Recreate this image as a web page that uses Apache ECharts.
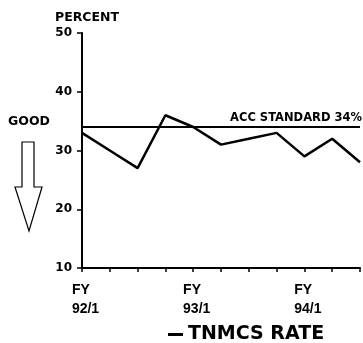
<!DOCTYPE html>
<html><head><meta charset="utf-8">
<script src="https://cdn.jsdelivr.net/npm/echarts@6/dist/echarts.min.js"></script>
<style>html,body{margin:0;padding:0;background:#fff}#c{width:363px;height:343px}</style>
</head><body><div id="c"></div>
<script>
const categories = ['92/1','92/2','92/3','92/4','93/1','93/2','93/3','93/4','94/1','94/2','94/3'];
const tnmcsRate = [33, 30, 27, 36, 34, 31, 32, 33, 29, 32, 28];
const standardValue = 34;
const yTicks = [10, 20, 30, 40, 50];
const labeledCats = ['92/1','93/1','94/1'];

const FONT = 'DejaVu Sans';
const LFONT = 'Liberation Sans';
const chart = echarts.init(document.getElementById('c'), null, {renderer:'canvas'});
chart.setOption({
  animation: false,
  backgroundColor: '#fff',
  grid: {left: 82, right: 1, top: 33, bottom: 75},
  legend: {
    data: ['TNMCS RATE'], left: 163, top: 320, icon: 'rect', itemWidth: 15, itemHeight: 3, itemGap: 10,
    textStyle: {fontFamily: FONT, fontWeight: 'bold', fontSize: 19, color: '#000'}
  },
  xAxis: {
    type: 'category', data: categories, boundaryGap: false,
    axisLine: {lineStyle: {color: '#000', width: 2}},
    axisTick: {show: true, length: 4, lineStyle: {color: '#000', width: 1.5}, interval: 0},
    axisLabel: {
      interval: 0, margin: 13, color: '#000',
      fontFamily: LFONT, fontWeight: 'bold', fontSize: 14,
      formatter: v => labeledCats.includes(v) ? '{a|FY}\n{a|' + v + '}' : '',
      rich: {a: {align: 'left', padding: [0, 0, 0, 7], lineHeight: 19, fontFamily: LFONT, fontWeight: 'bold', fontSize: 14, color: '#000'}}
    }
  },
  yAxis: {
    type: 'value', min: yTicks[0], max: yTicks[yTicks.length-1], interval: 10,
    name: 'PERCENT', nameLocation: 'end', nameGap: 9,
    nameTextStyle: {fontFamily: FONT, fontWeight: 'bold', fontSize: 12.5, color: '#000', align: 'center', padding: [0, 0, 0, 10]},
    axisLine: {show: true, lineStyle: {color: '#000', width: 2}},
    axisTick: {show: true, length: 5, lineStyle: {color: '#000', width: 1.5}},
    axisLabel: {margin: 10, color: '#000', fontFamily: FONT, fontWeight: 'bold', fontSize: 12},
    splitLine: {show: false}
  },
  series: [{
    name: 'TNMCS RATE', type: 'line', data: tnmcsRate, symbol: 'none',
    lineStyle: {color: '#000', width: 2.5}, itemStyle: {color: '#000'},
    markLine: {
      silent: true, symbol: 'none',
      lineStyle: {color: '#000', width: 2, type: 'solid'},
      label: {position: 'insideEndTop', formatter: 'ACC STANDARD ' + standardValue + '%', color: '#000',
        fontFamily: FONT, fontWeight: 'bold', fontSize: 11.5, distance: [-2, 3]},
      data: [{yAxis: standardValue}]
    }
  }],
  graphic: [
    {type: 'text', left: 8, top: 115, style: {text: 'GOOD', fill: '#000', font: 'bold 12.5px "DejaVu Sans"'}},
    {type: 'polygon', shape: {points: [[22,142],[34,142],[34,187],[42,187],[29,231],[15,187],[22,187]]},
      style: {fill: '#fff', stroke: '#000', lineWidth: 1.2}}
  ]
});
</script></body></html>
